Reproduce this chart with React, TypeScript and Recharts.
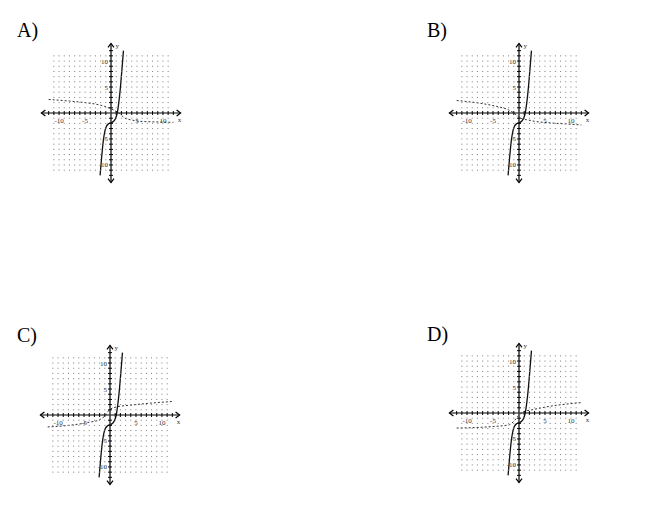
import React from 'react';
import { ComposedChart, Line, Scatter, XAxis, YAxis, ReferenceLine } from 'recharts';

// integer grid positions for the dotted background
const gridSteps = [-11, -10, -9, -8, -7, -6, -5, -4, -3, -2, -1, 0, 1, 2, 3, 4, 5, 6, 7, 8, 9, 10, 11];
const tickSteps = [-12, -11, -10, -9, -8, -7, -6, -5, -4, -3, -2, -1, 1, 2, 3, 4, 5, 6, 7, 8, 9, 10, 11, 12];

const xTickLabels = [
    { x: -10, label: '-10' },
    { x: -5, label: '-5' },
    { x: 5, label: '5' },
    { x: 10, label: '10' },
];
const yTickLabels = [
    { y: 10, label: '10' },
    { y: 5, label: '5' },
    { y: -5, label: '-5' },
    { y: -10, label: '-10' },
];

// solid curve (same in every option)
const solidX = [-2.1, -1.8, -1.5, -1.2, -0.9, -0.5, 0, 0.5, 0.9, 1.2, 1.5, 1.8, 2.1, 2.4];
const solidY = [-12, -8.5, -5.5, -3.6, -2.6, -2.1, -1.9, -1.6, -1, 0, 2, 4.8, 8.3, 12];

// dashed curves, one per option
const dashA_X = [-12, -8, -5, -2, -1, 0, 1, 1.5, 2.7, 4, 5.6, 8, 12];
const dashA_Y = [2.6, 2.3, 2.0, 1.5, 1.2, 0.8, 0.3, 0, -1, -1.35, -1.6, -1.7, -1.8];
const dashB_X = [-12, -7, -4, -2, -1, 0, 0.8, 1.5, 3, 6, 9, 12];
const dashB_Y = [2.4, 1.8, 1.2, 0.6, 0, -0.8, -1.2, -1.3, -1.6, -1.9, -2.1, -2.3];
const dashC_X = [-12, -8, -4, -2, -1, 0, 1.5, 4, 8, 12];
const dashC_Y = [-2.3, -2, -1.4, -0.9, -0.2, 1.1, 1.6, 1.9, 2.3, 2.6];
const dashD_X = [-12, -5, -2, -1, 0, 1, 2.4, 6, 12];
const dashD_Y = [-2.9, -2.6, -2.3, -1.6, -0.4, 0.3, 0.6, 1.3, 2];

const zip = (xs: number[], ys: number[]) => xs.map((x, i) => ({ x, y: ys[i] }));

const gridDots = gridSteps.flatMap((x) => gridSteps.map((y) => ({ x, y })));
const xTicks = tickSteps.map((x) => ({ x, y: 0 }));
const yTicks = tickSteps.map((y) => ({ x: 0, y }));
const arrows = [
    { x: -13.4, y: 0, dir: 'l' },
    { x: 13.4, y: 0, dir: 'r' },
    { x: 0, y: 13.4, dir: 'u' },
    { x: 0, y: -13.4, dir: 'd' },
];
const solidData = zip(solidX, solidY);

const SIZE = 160;
const DOMAIN: [number, number] = [-15.4, 15.4];
const LABEL_FONT = '"Liberation Serif", serif';

const GridDot = (props: any) => <rect x={props.cx - 0.5} y={props.cy - 0.5} width={1} height={1} fill="#7a7a7a" />;
const XTick = (props: any) => <line x1={props.cx} x2={props.cx} y1={props.cy - 2} y2={props.cy + 2} stroke="#000" strokeWidth={1} />;
const YTick = (props: any) => <line x1={props.cx - 2} x2={props.cx + 2} y1={props.cy} y2={props.cy} stroke="#000" strokeWidth={1} />;

const Arrow = (props: any) => {
    const { cx, cy } = props;
    const dir = props.payload?.dir;
    let d = '';
    if (dir === 'l') d = `M${cx + 4},${cy - 3} L${cx},${cy} L${cx + 4},${cy + 3}`;
    if (dir === 'r') d = `M${cx - 4},${cy - 3} L${cx},${cy} L${cx - 4},${cy + 3}`;
    if (dir === 'u') d = `M${cx - 3},${cy + 4} L${cx},${cy} L${cx + 3},${cy + 4}`;
    if (dir === 'd') d = `M${cx - 3},${cy - 4} L${cx},${cy} L${cx + 3},${cy - 4}`;
    return <path d={d} fill="none" stroke="#000" strokeWidth={1.2} />;
};

const XLabel = (props: any) => (
    <text x={props.cx} y={props.cy + 10} textAnchor="middle" fontSize={7} fontFamily={LABEL_FONT} fill="#333">
        {props.payload?.label}
    </text>
);
const YLabel = (props: any) => (
    <text x={props.cx - 3} y={props.cy + 2.5} textAnchor="end" fontSize={7} fontFamily={LABEL_FONT} fill="#333">
        {props.payload?.label}
    </text>
);
const AxisName = (props: any) => (
    <text x={props.cx} y={props.cy} textAnchor="middle" fontSize={7} fontFamily={LABEL_FONT} fill="#333">
        {props.payload?.label}
    </text>
);

interface PanelProps {
    letter: string;
    originX: number;
    originY: number;
    letterX: number;
    letterY: number;
    dashed: { x: number; y: number }[];
}

const Panel: React.FC<PanelProps> = ({ letter, originX, originY, letterX, letterY, dashed }) => (
    <>
        <div
            style={{
                position: 'absolute',
                left: letterX,
                top: letterY,
                fontFamily: LABEL_FONT,
                fontSize: 20,
                lineHeight: '20px',
                color: '#000',
            }}
        >
            {letter}
        </div>
        <div style={{ position: 'absolute', left: originX - SIZE / 2, top: originY - SIZE / 2 }}>
            <ComposedChart width={SIZE} height={SIZE} margin={{ top: 0, right: 0, bottom: 0, left: 0 }}>
                <XAxis type="number" dataKey="x" domain={DOMAIN} hide allowDataOverflow />
                <YAxis type="number" dataKey="y" domain={DOMAIN} hide allowDataOverflow />
                <Scatter data={gridDots} shape={GridDot} isAnimationActive={false} />
                <ReferenceLine segment={[{ x: -13.4, y: 0 }, { x: 13.4, y: 0 }]} stroke="#000" strokeWidth={1.2} />
                <ReferenceLine segment={[{ x: 0, y: -13.4 }, { x: 0, y: 13.4 }]} stroke="#000" strokeWidth={1.2} />
                <Scatter data={xTicks} shape={XTick} isAnimationActive={false} />
                <Scatter data={yTicks} shape={YTick} isAnimationActive={false} />
                <Scatter data={arrows} shape={Arrow} isAnimationActive={false} />
                <Scatter data={xTickLabels.map((t) => ({ x: t.x, y: 0, label: t.label }))} shape={XLabel} isAnimationActive={false} />
                <Scatter data={yTickLabels.map((t) => ({ x: 0, y: t.y, label: t.label }))} shape={YLabel} isAnimationActive={false} />
                <Scatter
                    data={[
                        { x: 13.2, y: -1.7, label: 'x' },
                        { x: 1.2, y: 12.6, label: 'y' },
                    ]}
                    shape={AxisName}
                    isAnimationActive={false}
                />
                <Line
                    data={dashed}
                    dataKey="y"
                    type="monotone"
                    stroke="#333"
                    strokeWidth={1}
                    strokeDasharray="2 2"
                    dot={false}
                    isAnimationActive={false}
                />
                <Line
                    data={solidData}
                    dataKey="y"
                    type="monotone"
                    stroke="#111"
                    strokeWidth={1.3}
                    dot={false}
                    isAnimationActive={false}
                />
            </ComposedChart>
        </div>
    </>
);

const App: React.FC = () => (
    <div style={{ position: 'absolute', left: 0, top: 0, width: 650, height: 514, background: '#fff' }}>
        <Panel letter="A)" originX={111} originY={113} letterX={17} letterY={20} dashed={zip(dashA_X, dashA_Y)} />
        <Panel letter="B)" originX={519} originY={113} letterX={427} letterY={20} dashed={zip(dashB_X, dashB_Y)} />
        <Panel letter="C)" originX={110} originY={415} letterX={17} letterY={325} dashed={zip(dashC_X, dashC_Y)} />
        <Panel letter="D)" originX={519} originY={413} letterX={427} letterY={324} dashed={zip(dashD_X, dashD_Y)} />
    </div>
);

export default App;
